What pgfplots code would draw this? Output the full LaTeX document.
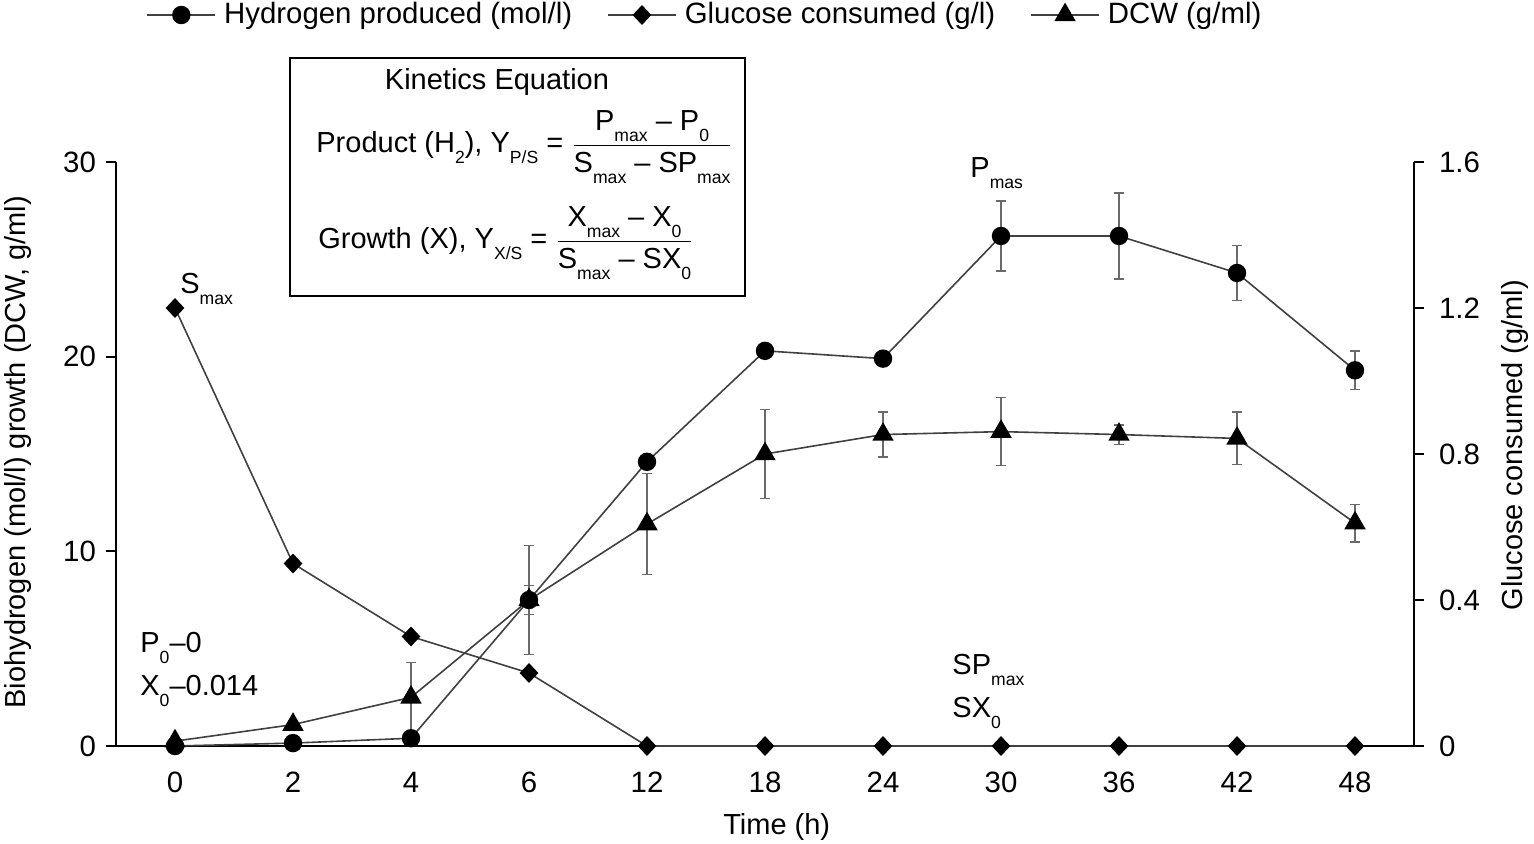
\documentclass[border=0pt]{standalone}
\usepackage{fontspec}
\setmainfont{Liberation Sans}
\usepackage{amsmath}
\usepackage{pgfplots}
\pgfplotsset{compat=1.18}
\definecolor{lin}{HTML}{404040}
\definecolor{err}{HTML}{6A6A6A}
\newcommand{\sub}[1]{\raisebox{-5.5pt}{\fontsize{8.8}{10}\selectfont #1}}
\pgfplotstableread{
x y e
0 0 0
1 0.15 0
2 0.4 0
3 7.5 2.8
4 14.6 0
5 20.3 0
6 19.9 0
7 26.2 1.8
8 26.2 2.2
9 24.3 1.4
10 19.3 1.0
}\hydrogen
\pgfplotstableread{
x y e
0 0.25 0
1 1.1 0
2 2.5 1.8
3 7.5 0.75
4 11.4 2.6
5 15.0 2.3
6 16.0 1.15
7 16.15 1.75
8 16.0 0.5
9 15.8 1.35
10 11.45 0.97
}\dcw
\pgfplotstableread{
x y
0 1.2
1 0.5
2 0.3
3 0.2
4 0
5 0
6 0
7 0
8 0
9 0
10 0
}\glucose
\pgfplotsset{
  common/.style={scale only axis, width=649pt, height=292pt, at={(0pt,0pt)}, anchor=south west,
    xmin=-0.5, xmax=10.5,
    tick label style={font=\fontsize{14.7}{17}\selectfont},
    label style={font=\fontsize{17.5}{20}\selectfont},
    tick align=outside, major tick length=5pt, minor tick length=4pt,
    axis line style={line width=1.1pt, black},
    every tick/.style={black, line width=1.1pt},
    clip=false},
  hyd/.style={lin, line width=0.8pt, mark=*, mark size=4.2pt, mark options={fill=black, draw=black, solid}},
  dcws/.style={lin, line width=0.8pt, mark=triangle*, mark size=5.4pt, mark options={fill=black, draw=black, solid}},
  glus/.style={lin, line width=0.8pt, mark=diamond*, mark size=4.4pt, mark options={fill=black, draw=black, solid, xscale=1.25}},
  errs/.style={error bars/.cd, y dir=both, y explicit,
    error bar style={err, line width=0.7pt},
    error mark options={rotate=90, mark size=2.6pt, err, line width=0.7pt}},
}
\begin{document}
\fontsize{14.5}{17}\selectfont
\begin{tikzpicture}
\path[use as bounding box] (-58pt,-48.5pt) rectangle (709pt,373pt);
\begin{axis}[common,
  axis x line*=bottom, axis y line*=left,
  ymin=0, ymax=30,
  xtick={0,...,10}, xticklabels={0,2,4,6,12,18,24,30,36,42,48},
  xtick style={draw=none},
  xticklabel style={yshift=-3pt},
  minor xtick={-0.5,0.5,...,10.5},
  ytick={0,10,20,30}, yticklabels={0,10,20,30},
  xlabel={Time (h)}, ylabel={Biohydrogen (mol/l) growth (DCW, g/ml)},
  every axis y label/.style={at={(axis description cs:-0.0755,0.503)}, rotate=90, anchor=center, inner sep=0pt},
  every axis x label/.style={at={(axis description cs:0.509,-0.139)}, anchor=center},
]
\addplot[hyd, errs] table[x=x, y=y, y error=e] {\hydrogen};
\addplot[dcws, errs] table[x=x, y=y, y error=e] {\dcw};
\end{axis}
\begin{axis}[common,
  axis y line*=right, axis x line=none,
  ymin=0, ymax=1.6,
  ytick={0,0.4,0.8,1.2,1.6}, yticklabels={0,0.4,0.8,1.2,1.6},
  yticklabel style={xshift=2.5pt},
  ylabel={Glucose consumed (g/ml)},
  every axis y label/.style={at={(axis description cs:1.078,0.515)}, rotate=90, anchor=center, inner sep=0pt},
  legend columns=3,
  legend style={at={(axis description cs:0.4545,1.2517)}, anchor=center, draw=none, fill=none,
    font=\fontsize{14.7}{17}\selectfont,
    /tikz/every odd column/.append style={column sep=2pt},
    /tikz/every even column/.append style={column sep=15.5pt}},
  legend image code/.code={\draw[mark repeat=2,mark phase=2,#1] plot coordinates {(0pt,0pt) (17pt,0pt) (34pt,0pt)};},
]
\addlegendimage{hyd}
\addlegendentry{Hydrogen produced (mol/l)}
\addplot[glus] table[x=x, y=y] {\glucose};
\addlegendentry{Glucose consumed (g/l)}
\addlegendimage{dcws}
\addlegendentry{DCW (g/ml)}
\end{axis}
\node[anchor=base west, inner sep=0] at (32pt,226.5pt) {S\sub{max}};
\node[anchor=base west, inner sep=0] at (12pt,47pt) {P\sub{0}--0};
\node[anchor=base west, inner sep=0] at (12pt,25.5pt) {X\sub{0}--0.014};
\node[anchor=base west, inner sep=0] at (427pt,284.5pt) {P\sub{mas}};
\node[anchor=base west, inner sep=0] at (418pt,36pt) {SP\sub{max}};
\node[anchor=base west, inner sep=0] at (418pt,14.5pt) {SX\sub{0}};
\draw[line width=1.1pt] (87pt,225pt) rectangle (314.5pt,344pt);
\node at (190.5pt,332pt) {Kinetics Equation};
\node[anchor=west, inner sep=0] at (100pt,299.5pt) {Product (H\sub{2}), Y\sub{P/S} = $\displaystyle\frac{\mbox{P\sub{max} -- P\sub{0}}}{\mbox{S\sub{max} -- SP\sub{max}}}$};
\node[anchor=west, inner sep=0] at (101pt,251.5pt) {Growth (X), Y\sub{X/S} = $\displaystyle\frac{\mbox{X\sub{max} -- X\sub{0}}}{\mbox{S\sub{max} -- SX\sub{0}}}$};
\end{tikzpicture}
\end{document}
